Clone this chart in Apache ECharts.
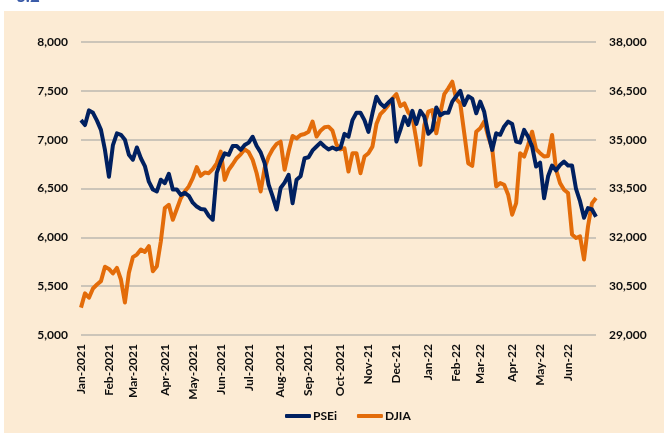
<!DOCTYPE html>
<html>
<head>
<meta charset="utf-8">
<style>
  html, body { margin: 0; padding: 0; background: #ffffff; }
  #main { width: 664px; height: 433px; }
</style>
<script src="https://cdn.jsdelivr.net/npm/echarts@6/dist/echarts.min.js"></script>
</head>
<body>
<div id="main"></div>
<script>
// month tick labels and the point index where each one sits
var monthLabels = ['Jan-2021', 'Feb-2021', 'Mar-2021', 'Apr-2021', 'May-2021', 'Jun-2021',
    'Jul-2021', 'Aug-2021', 'Sep-2021', 'Oct-2021', 'Nov-21', 'Dec-21',
    'Jan-22', 'Feb-22', 'Mar-22', 'Apr-22', 'May-22', 'Jun-22'];
var monthIdx = [0, 7, 13, 21, 28, 35, 42, 50, 57, 65, 72, 79, 87, 94, 100, 108, 115, 122];

// PSEi (left axis)
var psei = [
    7200, 7150, 7300, 7275, 7195, 7100, 6895, 6620, 6945, 7065,
    7050, 7000, 6845, 6795, 6920, 6810, 6730, 6570, 6490, 6470,
    6590, 6555, 6650, 6490, 6490, 6435, 6455, 6425, 6355, 6315,
    6290, 6285, 6220, 6180, 6660, 6775, 6860, 6845, 6935, 6935,
    6895, 6945, 6970, 7030, 6935, 6870, 6760, 6540, 6420, 6285,
    6505, 6560, 6640, 6350, 6590, 6625, 6810, 6820, 6890, 6930,
    6970, 6930, 6900, 6920, 6900, 6915, 7060, 7030, 7200, 7275,
    7275, 7200, 7080, 7270, 7440, 7370, 7335, 7380, 7415, 6980,
    7100, 7235, 7150, 7295, 7160, 7295, 7235, 7060, 7100, 7330,
    7250, 7275, 7275, 7390, 7445, 7500, 7355, 7445, 7420, 7270,
    7390, 7285, 7065, 6895, 7065, 7050, 7135, 7185, 7160, 6980,
    6970, 7100, 7030, 6930, 6725, 6765, 6400, 6625, 6735, 6685,
    6740, 6775, 6735, 6735, 6495, 6370, 6200, 6300, 6285, 6210
];

// DJIA (right axis)
var djia = [
    29840, 30280, 30145, 30430, 30550, 30655, 31095, 31030, 30890, 31065,
    30705, 30000, 30910, 31390, 31470, 31625, 31550, 31730, 30960, 31110,
    31880, 32900, 33000, 32540, 32870, 33205, 33410, 33565, 33820, 34155,
    33890, 33990, 33970, 34095, 34275, 34635, 33765, 34075, 34245, 34430,
    34550, 34705, 34615, 34380, 33970, 33410, 34125, 34480, 34705, 34870,
    34940, 34075, 34635, 35115, 35040, 35145, 35175, 35245, 35555, 35095,
    35275, 35380, 35400, 35275, 34850, 34700, 34735, 34020, 34585, 34585,
    33970, 34480, 34585, 34785, 35480, 35785, 35910, 36065, 36265, 36400,
    36030, 36115, 35830, 35705, 34990, 34225, 35450, 35860, 35910, 35195,
    35805, 36400, 36575, 36780, 36245, 36115, 35195, 34275, 34195, 35245,
    35350, 35555, 35095, 34735, 33565, 33665, 33615, 33310, 32695, 33050,
    34585, 34480, 34840, 35245, 34705, 34585, 34480, 34500, 35145, 34075,
    33665, 33460, 33360, 32085, 31980, 32030, 31320, 32340, 33050, 33205
];

// category per point, only month starts carry a label
var cats = [];
for (var i = 0; i < psei.length; i++) {
    var k = monthIdx.indexOf(i);
    cats.push(k >= 0 ? monthLabels[k] : '');
}

var FONT = 'Lato';
var txt = { fontFamily: FONT, fontWeight: 'bold', fontSize: 12, color: '#0d0d0d' };

var myChart = echarts.init(document.getElementById('main'), null, { renderer: 'canvas' });

var option = {
    backgroundColor: '#ffffff',
    animation: false,
    graphic: [
        { type: 'rect', left: 4, top: 11, z: -10,
          shape: { width: 660, height: 422 },
          style: { fill: '#FCEBD4' } },
        { type: 'text', left: 16, top: -12,
          style: { text: '3.2', fill: '#3A5BA8', font: 'bold 17px Lato' } }
    ],
    grid: { left: 81, right: 68, top: 42, bottom: 98 },
    legend: {
        bottom: 6,
        left: 280,
        itemGap: 20,
        itemWidth: 26,
        itemHeight: 4,
        icon: 'roundRect',
        textStyle: Object.assign({ padding: [0, 0, 0, -3] }, txt),
        data: ['PSEi', 'DJIA']
    },
    xAxis: {
        type: 'category',
        boundaryGap: false,
        data: cats,
        axisLine: { show: false },
        axisTick: { show: false },
        axisLabel: Object.assign({ interval: 0, rotate: 90, margin: 9 }, txt)
    },
    yAxis: [{
        type: 'value',
        min: 5000, max: 8000, interval: 500,
        axisLine: { show: false },
        axisTick: { show: false },
        axisLabel: Object.assign({ margin: 13, formatter: function (v) { return v.toLocaleString('en-US'); } }, txt),
        splitLine: { lineStyle: { color: '#BDB8B0', width: 1.5 } }
    }, {
        type: 'value',
        min: 29000, max: 38000, interval: 1500,
        axisLine: { show: false },
        axisTick: { show: false },
        axisLabel: Object.assign({ margin: 13, formatter: function (v) { return v.toLocaleString('en-US'); } }, txt),
        splitLine: { show: false }
    }],
    series: [{
        name: 'PSEi',
        type: 'line',
        yAxisIndex: 0,
        showSymbol: false,
        data: psei,
        color: '#002060',
        lineStyle: { width: 4, join: 'round' },
        z: 3
    }, {
        name: 'DJIA',
        type: 'line',
        yAxisIndex: 1,
        showSymbol: false,
        data: djia,
        color: '#E36C0A',
        lineStyle: { width: 4, join: 'round' },
        z: 2
    }]
};

myChart.setOption(option);
</script>
</body>
</html>
